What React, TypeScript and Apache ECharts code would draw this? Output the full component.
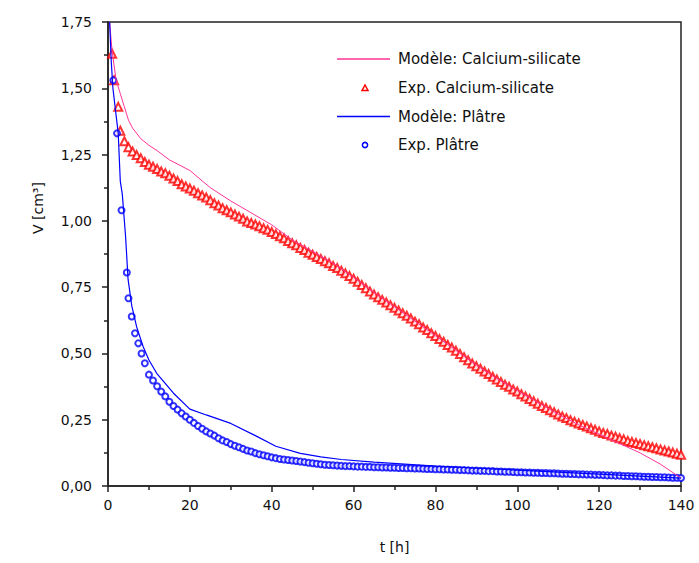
import React, { useEffect, useRef } from "react";
import * as echarts from "echarts";

const FONT = '"DejaVu Sans", "Liberation Sans", sans-serif';

const legendLabels = [
  "Modèle: Calcium-silicate",
  "Exp. Calcium-silicate",
  "Modèle: Plâtre",
  "Exp. Plâtre",
];

// Modèle: Calcium-silicate  [t (h), V (cm3)]
const calcModel: [number, number][] = [
  [0.4, 1.75], [1, 1.64], [2, 1.53], [3, 1.48], [4, 1.43], [5, 1.38], [6, 1.35],
  [8, 1.31], [10, 1.285], [12, 1.265], [15, 1.23], [20, 1.19], [25, 1.125],
  [30, 1.075], [35, 1.03], [40, 0.985], [45, 0.928], [50, 0.885], [55, 0.84],
  [60, 0.787], [65, 0.73], [70, 0.676], [75, 0.622], [80, 0.567], [85, 0.512],
  [90, 0.456], [95, 0.405], [100, 0.36], [105, 0.315], [110, 0.271], [115, 0.231],
  [120, 0.195], [125, 0.16], [130, 0.125], [135, 0.082], [140, 0.03],
];

// Exp. Calcium-silicate
const calcExp: [number, number][] = [
  [1, 1.63], [1.5, 1.53], [2.5, 1.43], [3, 1.34],
  [4, 1.3], [5, 1.278], [6, 1.262], [7, 1.248], [8, 1.236], [9, 1.222], [10, 1.212],
  [11, 1.204], [12, 1.196], [13, 1.186], [14, 1.18], [15, 1.17], [16, 1.16], [17, 1.15],
  [18, 1.138], [19, 1.13], [20, 1.122], [21, 1.114], [22, 1.104], [23, 1.096], [24, 1.088],
  [25, 1.078], [26, 1.066], [27, 1.058], [28, 1.048], [29, 1.04], [30, 1.032], [31, 1.024],
  [32, 1.016], [33, 1.008], [34, 0.998], [35, 0.992], [36, 0.986], [37, 0.98], [38, 0.972],
  [39, 0.966], [40, 0.958], [41, 0.95], [42, 0.942], [43, 0.934], [44, 0.924], [45, 0.916],
  [46, 0.908], [47, 0.898], [48, 0.89], [49, 0.88], [50, 0.872], [51, 0.864], [52, 0.856],
  [53, 0.848], [54, 0.84], [55, 0.83], [56, 0.822], [57, 0.812], [58, 0.802], [59, 0.792],
  [60, 0.782], [61, 0.77], [62, 0.758], [63, 0.746], [64, 0.734], [65, 0.722], [66, 0.712],
  [67, 0.702], [68, 0.692], [69, 0.682], [70, 0.672], [71, 0.662], [72, 0.652], [73, 0.642],
  [74, 0.632], [75, 0.62], [76, 0.61], [77, 0.598], [78, 0.588], [79, 0.576], [80, 0.566],
  [81, 0.554], [82, 0.544], [83, 0.532], [84, 0.522], [85, 0.51], [86, 0.498], [87, 0.486],
  [88, 0.474], [89, 0.462], [90, 0.452], [91, 0.442], [92, 0.432], [93, 0.422], [94, 0.412],
  [95, 0.402], [96, 0.392], [97, 0.382], [98, 0.374], [99, 0.364], [100, 0.356], [101, 0.346],
  [102, 0.338], [103, 0.328], [104, 0.32], [105, 0.31], [106, 0.302], [107, 0.294], [108, 0.286],
  [109, 0.278], [110, 0.27], [111, 0.262], [112, 0.256], [113, 0.248], [114, 0.242], [115, 0.236],
  [116, 0.23], [117, 0.224], [118, 0.218], [119, 0.212], [120, 0.206], [121, 0.2], [122, 0.196],
  [123, 0.19], [124, 0.186], [125, 0.18], [126, 0.176], [127, 0.17], [128, 0.166], [129, 0.162],
  [130, 0.158], [131, 0.154], [132, 0.15], [133, 0.146], [134, 0.142], [135, 0.138], [136, 0.134],
  [137, 0.13], [138, 0.126], [139, 0.122], [140, 0.118],
];

// Modèle: Plâtre
const platreModel: [number, number][] = [
  [0.4, 1.75], [0.8, 1.6], [1.2, 1.5], [2.5, 1.33], [3, 1.15], [3.5, 1.1], [4.3, 0.94],
  [4.9, 0.78], [5.8, 0.68], [7, 0.6], [8.6, 0.525], [10, 0.475], [11.9, 0.425], [16, 0.35],
  [20, 0.29], [24, 0.268], [30, 0.236], [36, 0.19], [41, 0.15], [47, 0.123], [52, 0.11],
  [57, 0.1], [65, 0.09], [80, 0.075], [100, 0.06], [120, 0.045], [140, 0.03],
];

// Exp. Plâtre
const platreExp: [number, number][] = [
  [1.3, 1.53], [2.2, 1.33], [3.3, 1.04], [4.6, 0.805], [5, 0.708], [5.8, 0.639], [6.6, 0.576],
  [7.4, 0.538], [8.2, 0.5], [9, 0.463],
  [10, 0.42], [11, 0.398], [12, 0.376], [13, 0.356], [14, 0.338], [15, 0.318], [16, 0.302],
  [17, 0.288], [18, 0.274], [19, 0.262], [20, 0.25], [21, 0.238], [22, 0.226], [23, 0.216],
  [24, 0.206], [25, 0.198], [26, 0.19], [27, 0.18], [28, 0.172], [29, 0.166], [30, 0.158],
  [31, 0.152], [32, 0.146], [33, 0.14], [34, 0.134], [35, 0.13], [36, 0.124], [37, 0.12],
  [38, 0.116], [39, 0.112], [40, 0.108], [41, 0.105], [42, 0.102], [43, 0.1], [44, 0.098],
  [45, 0.096], [46, 0.094], [47, 0.092], [48, 0.09], [49, 0.088], [50, 0.086], [51, 0.084],
  [52, 0.082], [53, 0.08], [54, 0.079], [55, 0.078], [56, 0.077], [57, 0.076], [58, 0.075],
  [59, 0.075], [60, 0.074], [61, 0.073], [62, 0.073], [63, 0.072], [64, 0.072], [65, 0.071],
  [66, 0.071], [67, 0.07], [68, 0.07], [69, 0.069], [70, 0.069], [71, 0.068], [72, 0.068],
  [73, 0.067], [74, 0.067], [75, 0.066], [76, 0.066], [77, 0.065], [78, 0.064], [79, 0.064],
  [80, 0.063], [81, 0.063], [82, 0.062], [83, 0.062], [84, 0.061], [85, 0.061], [86, 0.06],
  [87, 0.06], [88, 0.059], [89, 0.058], [90, 0.058], [91, 0.057], [92, 0.057], [93, 0.056],
  [94, 0.056], [95, 0.055], [96, 0.055], [97, 0.054], [98, 0.054], [99, 0.053], [100, 0.052],
  [101, 0.052], [102, 0.051], [103, 0.051], [104, 0.05], [105, 0.05], [106, 0.049], [107, 0.049],
  [108, 0.048], [109, 0.048], [110, 0.047], [111, 0.046], [112, 0.046], [113, 0.045], [114, 0.045],
  [115, 0.044], [116, 0.044], [117, 0.043], [118, 0.043], [119, 0.042], [120, 0.042], [121, 0.041],
  [122, 0.04], [123, 0.04], [124, 0.039], [125, 0.039], [126, 0.038], [127, 0.038], [128, 0.037],
  [129, 0.037], [130, 0.036], [131, 0.035], [132, 0.035], [133, 0.034], [134, 0.034], [135, 0.033],
  [136, 0.033], [137, 0.032], [138, 0.031], [139, 0.031], [140, 0.03],
];

const PINK = "#ff3399";
const RED = "#ff0000";
const BLUE = "#0000ff";
const AXIS = "#222222";

export default function App() {
  const ref = useRef<HTMLDivElement>(null);

  useEffect(() => {
    if (!ref.current) return;
    const chart = echarts.init(ref.current, null, { renderer: "svg" });

    const rowY = [59, 88, 116.5, 145];
    const lineX1 = 337;
    const lineX2 = 390;
    const markX = 365;
    const textX = 398;
    const textStyle = { fontFamily: FONT, fontSize: 15, fill: "#111" };

    const legendGraphics: any[] = [
      { type: "line", shape: { x1: lineX1, y1: rowY[0], x2: lineX2, y2: rowY[0] }, style: { stroke: PINK, lineWidth: 1.5 } },
      { type: "polygon", shape: { points: [[markX - 3, rowY[1] + 2.5], [markX + 3, rowY[1] + 2.5], [markX, rowY[1] - 3]] }, style: { fill: "#fff", stroke: RED, lineWidth: 1.5 } },
      { type: "line", shape: { x1: lineX1, y1: rowY[2], x2: lineX2, y2: rowY[2] }, style: { stroke: BLUE, lineWidth: 1.5 } },
      { type: "circle", shape: { cx: markX, cy: rowY[3], r: 2.6 }, style: { fill: "#fff", stroke: BLUE, lineWidth: 1.5 } },
      ...legendLabels.map((t, i) => ({
        type: "text",
        x: textX,
        y: rowY[i],
        style: { ...textStyle, text: t, verticalAlign: "middle" },
      })),
      {
        type: "text",
        x: 38,
        y: 208,
        rotation: Math.PI / 2,
        style: { ...textStyle, fontSize: 14, text: "V [cm³]", align: "center", verticalAlign: "middle" },
      },
    ];

    const tickCommon = { lineStyle: { color: AXIS, width: 1.5 } };

    chart.setOption({
      animation: false,
      backgroundColor: "#ffffff",
      grid: { left: 108, right: 18, top: 22, bottom: 77, show: true, borderColor: AXIS, borderWidth: 1.5, containLabel: false },
      xAxis: {
        type: "value",
        min: 0,
        max: 140,
        interval: 20,
        name: "t [h]",
        nameLocation: "middle",
        nameGap: 54,
        nameTextStyle: { fontFamily: FONT, fontSize: 14, color: "#111" },
        axisLine: { show: true, onZero: false, lineStyle: { color: AXIS, width: 1.5 } },
        axisTick: { show: true, inside: false, length: 6, ...tickCommon },
        minorTick: { show: true, splitNumber: 2, length: 4, ...tickCommon },
        splitLine: { show: false },
        axisLabel: { fontFamily: FONT, fontSize: 14, color: "#111", margin: 12 },
      },
      yAxis: {
        type: "value",
        min: 0,
        max: 1.75,
        interval: 0.25,
        axisLine: { show: true, onZero: false, lineStyle: { color: AXIS, width: 1.5 } },
        axisTick: { show: true, inside: false, length: 6, ...tickCommon },
        minorTick: { show: true, splitNumber: 2, length: 4, ...tickCommon },
        splitLine: { show: false },
        axisLabel: {
          fontFamily: FONT,
          fontSize: 14,
          color: "#111",
          margin: 16,
          formatter: (v: number) => v.toFixed(2).replace(".", ","),
        },
      },
      graphic: legendGraphics,
      series: [
        {
          name: legendLabels[1],
          type: "scatter",
          data: calcExp,
          symbol: "emptyTriangle",
          symbolSize: 8,
          itemStyle: { color: RED, borderColor: RED, borderWidth: 1.6 },
          z: 2,
        },
        {
          name: legendLabels[3],
          type: "scatter",
          data: platreExp,
          symbol: "emptyCircle",
          symbolSize: 6,
          itemStyle: { color: BLUE, borderColor: BLUE, borderWidth: 1.5 },
          z: 2,
        },
        {
          name: legendLabels[0],
          type: "line",
          data: calcModel,
          showSymbol: false,
          symbol: "none",
          lineStyle: { color: PINK, width: 1 },
          z: 3,
        },
        {
          name: legendLabels[2],
          type: "line",
          data: platreModel,
          showSymbol: false,
          symbol: "none",
          lineStyle: { color: BLUE, width: 1.2 },
          z: 3,
        },
      ],
    });

    return () => chart.dispose();
  }, []);

  return <div ref={ref} style={{ width: 699, height: 563, position: "absolute", left: 0, top: 0, background: "#fff" }} />;
}
